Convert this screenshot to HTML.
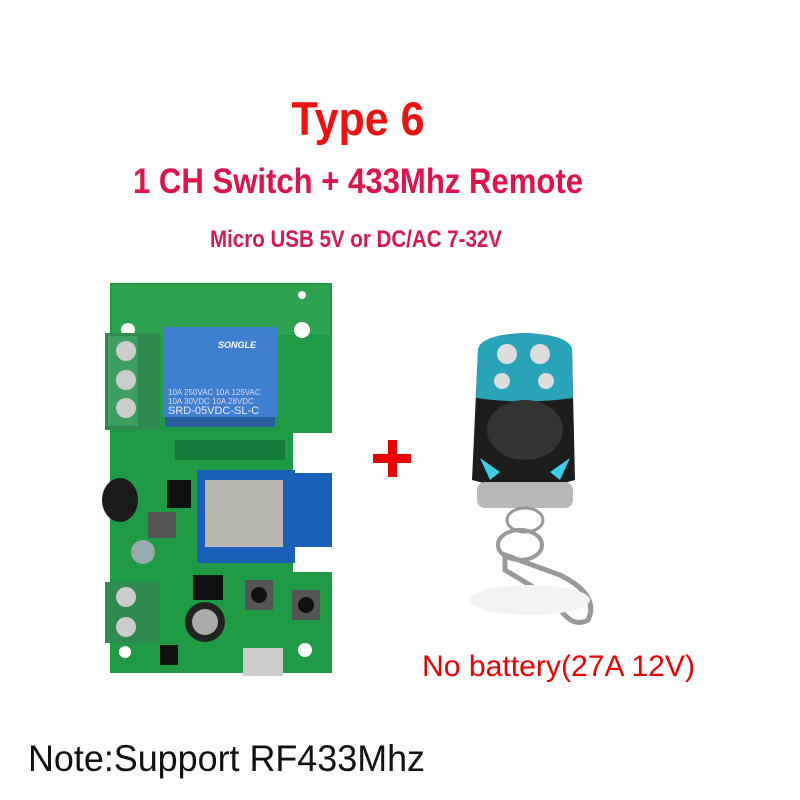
<!DOCTYPE html>
<html><head><meta charset="utf-8"><style>
html,body{margin:0;padding:0;background:#fff;width:800px;height:800px;overflow:hidden}
svg{display:block}
</style></head><body>
<svg width="800" height="800" viewBox="0 0 800 800" xmlns="http://www.w3.org/2000/svg" font-family="Liberation Sans, sans-serif">
<rect width="800" height="800" fill="#fff"/>
<text x="358" y="135" font-size="47" font-weight="bold" fill="#ee1111" text-anchor="middle" textLength="133" lengthAdjust="spacingAndGlyphs">Type 6</text>
<text x="133" y="193" font-size="35" font-weight="bold" fill="#e0124a" textLength="450" lengthAdjust="spacingAndGlyphs">1 CH Switch + 433Mhz Remote</text>
<text x="210" y="247" font-size="24" font-weight="bold" fill="#d81850" textLength="292" lengthAdjust="spacingAndGlyphs">Micro USB 5V or DC/AC 7-32V</text>

<!-- PCB -->
<path d="M110 283 H332 V433 H293 V572 H332 V673 H110 Z" fill="#1f9a45"/>
<rect x="112" y="285" width="218" height="50" fill="#3aaa5a" opacity="0.5"/>
<circle cx="302" cy="330" r="8" fill="#fff"/><circle cx="302" cy="295" r="4" fill="#fff"/>
<circle cx="128" cy="330" r="7" fill="#fff"/><circle cx="305" cy="650" r="7" fill="#fff"/><circle cx="125" cy="652" r="6" fill="#fff"/>
<rect x="105" y="333" width="55" height="97" fill="#2e8a4e"/>
<rect x="108" y="336" width="30" height="90" fill="#3c9f5f"/>
<circle cx="126" cy="351" r="10" fill="#ccc"/><circle cx="126" cy="380" r="10" fill="#ccc"/><circle cx="126" cy="408" r="10" fill="#ccc"/>
<rect x="105" y="582" width="55" height="61" fill="#2e8a4e"/>
<circle cx="126" cy="597" r="10" fill="#ccc"/><circle cx="126" cy="627" r="10" fill="#ccc"/>
<rect x="163" y="327" width="114" height="90" fill="#3f7fd0"/>
<rect x="165" y="417" width="110" height="10" fill="#2a5fa0"/>
<text x="218" y="348" font-size="9" fill="#fff" font-style="italic" font-weight="bold">SONGLE</text>
<text x="168" y="395" font-size="8" fill="#dde">10A 250VAC 10A 125VAC</text>
<text x="168" y="404" font-size="8" fill="#dde">10A 30VDC 10A 28VDC</text>
<text x="168" y="414" font-size="11" fill="#eef">SRD-05VDC-SL-C</text>
<rect x="175" y="440" width="110" height="20" fill="#0f6a33" opacity="0.6"/>
<ellipse cx="120" cy="500" rx="18" ry="22" fill="#1a1a1a"/>
<rect x="167" y="480" width="24" height="28" fill="#111"/>
<rect x="148" y="512" width="28" height="26" fill="#555"/>
<circle cx="143" cy="552" r="12" fill="#9aa"/>
<circle cx="205" cy="622" r="20" fill="#222"/><circle cx="205" cy="622" r="13" fill="#aaa"/>
<rect x="193" y="575" width="30" height="25" fill="#111"/>
<rect x="245" y="580" width="28" height="30" fill="#555"/><circle cx="259" cy="595" r="8" fill="#111"/>
<rect x="292" y="590" width="28" height="30" fill="#555"/><circle cx="306" cy="605" r="8" fill="#111"/>
<rect x="243" y="648" width="40" height="28" fill="#ccc"/>
<rect x="160" y="645" width="18" height="20" fill="#111"/>
<rect x="293" y="473" width="39" height="74" fill="#1a60b8"/>
<rect x="197" y="470" width="98" height="93" fill="#1a60b8"/>
<rect x="205" y="480" width="78" height="67" fill="#b8b8b0"/>
<rect x="373" y="454" width="38" height="9" fill="#ee0000"/>
<rect x="388" y="440" width="9" height="37" fill="#ee0000"/>
<path d="M478 350 Q480 335 525 333 Q570 335 572 350 L575 480 Q525 495 472 480 Z" fill="#1c1c1c"/>
<path d="M478 350 Q480 335 525 333 Q570 335 572 350 L573 398 Q525 405 476 398 Z" fill="#28a3b8"/>
<circle cx="507" cy="354" r="10" fill="#ddd"/><circle cx="540" cy="354" r="10" fill="#ddd"/>
<circle cx="502" cy="381" r="8" fill="#ddd"/><circle cx="546" cy="381" r="8" fill="#ddd"/>
<ellipse cx="525" cy="430" rx="38" ry="30" fill="#333"/>
<path d="M480 458 L500 472 L490 480 Z" fill="#3cd0e8"/><path d="M570 458 L550 472 L560 480 Z" fill="#3cd0e8"/>
<rect x="477" y="482" width="96" height="26" rx="8" fill="#b8b8b8"/>
<ellipse cx="525" cy="520" rx="18" ry="12" fill="none" stroke="#999" stroke-width="3"/>
<ellipse cx="520" cy="545" rx="22" ry="15" fill="none" stroke="#999" stroke-width="4"/>
<path d="M505 555 L560 575 Q600 595 588 620 Q570 630 555 600 L505 570 Z" fill="none" stroke="#999" stroke-width="5"/>
<ellipse cx="530" cy="600" rx="60" ry="15" fill="#f2f2f2"/>
<text x="422" y="676" font-size="30" fill="#ee0000" textLength="273" lengthAdjust="spacingAndGlyphs">No battery(27A 12V)</text>
<text x="28" y="771" font-size="37" fill="#111" textLength="397" lengthAdjust="spacingAndGlyphs">Note:Support RF433Mhz</text>
</svg>
</body></html>
